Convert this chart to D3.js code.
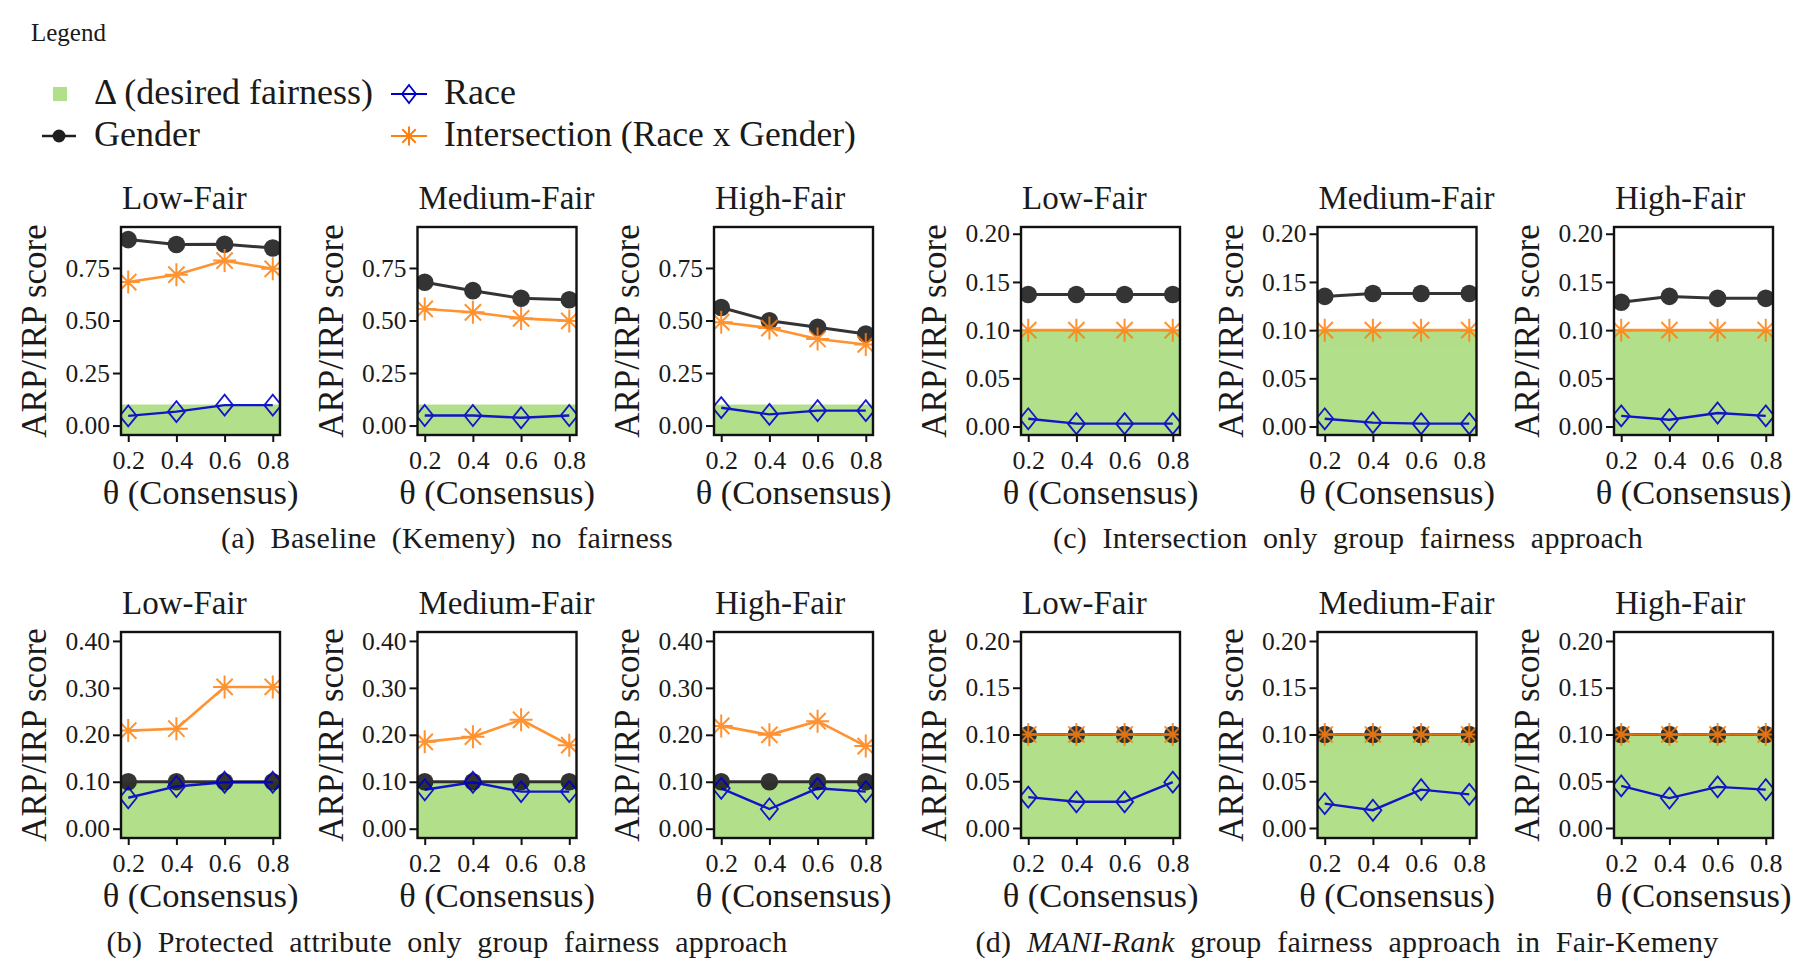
<!DOCTYPE html>
<html>
<head>
<meta charset="utf-8">
<script src="https://cdn.jsdelivr.net/npm/d3@7"></script>
<style>
  html, body { margin: 0; padding: 0; background: #fff; }
  svg text { font-family: "Liberation Serif", "Times New Roman", serif; fill: #1a1a1a; }
</style>
</head>
<body>
<svg id="chart" width="1794" height="963"></svg>
<script>
// theta values on the x axis
var thetas = [0.2, 0.4, 0.6, 0.8];
var fairLevels = ['Low-Fair', 'Medium-Fair', 'High-Fair'];
var delta = 0.1;

// (a) baseline kemeny, one row per fair level
var baseGender = [[0.885, 0.862, 0.863, 0.845], [0.682, 0.642, 0.606, 0.599], [0.562, 0.499, 0.468, 0.436]];
var baseRace = [[0.046, 0.066, 0.097, 0.097], [0.048, 0.048, 0.037, 0.048], [0.085, 0.053, 0.071, 0.071]];
var baseInter = [[0.683, 0.718, 0.785, 0.746], [0.555, 0.539, 0.510, 0.498], [0.492, 0.464, 0.412, 0.386]];

// (b) protected attribute only
var protGender = [[0.1, 0.1, 0.1, 0.1], [0.1, 0.1, 0.1, 0.1], [0.1, 0.1, 0.1, 0.1]];
var protRace = [[0.066, 0.090, 0.099, 0.099], [0.083, 0.099, 0.079, 0.079], [0.086, 0.042, 0.086, 0.079]];
var protInter = [[0.209, 0.213, 0.302, 0.302], [0.185, 0.196, 0.232, 0.178], [0.219, 0.200, 0.229, 0.176]];

// (c) intersection only
var intGender = [[0.137, 0.137, 0.137, 0.137], [0.135, 0.138, 0.138, 0.138], [0.129, 0.135, 0.133, 0.133]];
var intRace = [[0.008, 0.003, 0.003, 0.003], [0.008, 0.004, 0.003, 0.003], [0.011, 0.007, 0.014, 0.011]];
var intInter = [[0.1, 0.1, 0.1, 0.1], [0.1, 0.1, 0.1, 0.1], [0.1, 0.1, 0.1, 0.1]];

// (d) MANI-Rank
var maniGender = [[0.1, 0.1, 0.1, 0.1], [0.1, 0.1, 0.1, 0.1], [0.1, 0.1, 0.1, 0.1]];
var maniRace = [[0.033, 0.028, 0.028, 0.049], [0.026, 0.019, 0.041, 0.036], [0.045, 0.032, 0.044, 0.041]];
var maniInter = [[0.1, 0.1, 0.1, 0.1], [0.1, 0.1, 0.1, 0.1], [0.1, 0.1, 0.1, 0.1]];

var ticksA = [0, 0.25, 0.5, 0.75];
var ticksB = [0, 0.1, 0.2, 0.3, 0.4];
var ticksCD = [0, 0.05, 0.1, 0.15, 0.2];

var captionA = '(a) Baseline (Kemeny) no fairness';
var captionB = '(b) Protected attribute only group fairness approach';
var captionC = '(c) Intersection only group fairness approach';

var colors = { green: '#b2df8a', gender: '#1f1f1f', race: '#0000cc', inter: '#ff7f0e' };

var svg = d3.select('#chart');
var W = 159, step = 296.5;

var groups = [
  { left: 121, top: 227, h: 208, domain: [-0.045, 0.945], ticks: ticksA, g: baseGender, r: baseRace, i: baseInter },
  { left: 1021, top: 227, h: 208, domain: [-0.0088, 0.207], ticks: ticksCD, g: intGender, r: intRace, i: intInter },
  { left: 121, top: 632, h: 206, domain: [-0.0198, 0.419], ticks: ticksB, g: protGender, r: protRace, i: protInter },
  { left: 1021, top: 632, h: 206, domain: [-0.0107, 0.2096], ticks: ticksCD, g: maniGender, r: maniRace, i: maniInter }
];

function asterisk(r) {
  var d = r * 0.707;
  return 'M0,' + (-r) + 'L0,' + r + 'M' + (-r) + ',0L' + r + ',0M' + (-d) + ',' + (-d) + 'L' + d + ',' + d + 'M' + (-d) + ',' + d + 'L' + d + ',' + (-d);
}
function diamond(w, h) {
  return 'M0,' + (-h) + 'L' + w + ',0L0,' + h + 'L' + (-w) + ',0Z';
}

var clipId = 0;

function drawPanel(gx, gy, H, cfg, k) {
  var x = d3.scaleLinear().domain([0.17, 0.83]).range([0, W]),
      y = d3.scaleLinear().domain(cfg.domain).range([H, 0]),
      g = svg.append('g').attr('transform', 'translate(' + gx + ',' + gy + ')'),
      id = 'clip' + (clipId++);

  g.append('clipPath').attr('id', id).append('rect').attr('width', W).attr('height', H);
  var plot = g.append('g').attr('clip-path', 'url(#' + id + ')');

  plot.append('rect').attr('x', 0).attr('width', W)
    .attr('y', y(delta)).attr('height', H - y(delta)).attr('fill', colors.green);

  var line = d3.line().x(function (d, j) { return x(thetas[j]); }).y(function (d) { return y(d); });

  // gender
  var gg = plot.append('g').attr('opacity', 0.9);
  gg.append('path').attr('d', line(cfg.g[k])).attr('fill', 'none').attr('stroke', colors.gender).attr('stroke-width', 3);
  gg.selectAll('circle').data(cfg.g[k]).enter().append('circle')
    .attr('cx', function (d, j) { return x(thetas[j]); }).attr('cy', function (d) { return y(d); })
    .attr('r', 8.8).attr('fill', colors.gender);

  // race
  var rg = plot.append('g').attr('opacity', 0.9);
  rg.append('path').attr('d', line(cfg.r[k])).attr('fill', 'none').attr('stroke', colors.race).attr('stroke-width', 2.4);
  rg.selectAll('path.m').data(cfg.r[k]).enter().append('path').attr('class', 'm')
    .attr('transform', function (d, j) { return 'translate(' + x(thetas[j]) + ',' + y(d) + ')'; })
    .attr('d', diamond(8.5, 10.5)).attr('fill', 'none').attr('stroke', colors.race).attr('stroke-width', 1.8);

  // intersection
  var ig = plot.append('g').attr('opacity', 0.85);
  ig.append('path').attr('d', line(cfg.i[k])).attr('fill', 'none').attr('stroke', colors.inter).attr('stroke-width', 2.6);
  ig.selectAll('path.m').data(cfg.i[k]).enter().append('path').attr('class', 'm')
    .attr('transform', function (d, j) { return 'translate(' + x(thetas[j]) + ',' + y(d) + ')'; })
    .attr('d', asterisk(11.5)).attr('fill', 'none').attr('stroke', colors.inter).attr('stroke-width', 2);

  g.append('rect').attr('width', W).attr('height', H).attr('fill', 'none')
    .attr('stroke', '#111').attr('stroke-width', 2.4);

  var ya = g.append('g').call(d3.axisLeft(y).tickValues(cfg.ticks).tickFormat(d3.format('.2f')).tickSize(8).tickPadding(3));
  var xa = g.append('g').attr('transform', 'translate(0,' + H + ')')
    .call(d3.axisBottom(x).tickValues(thetas).tickFormat(d3.format('.1f')).tickSize(7).tickPadding(9));
  [ya, xa].forEach(function (a) {
    a.select('.domain').remove();
    a.selectAll('line').attr('stroke', '#111').attr('stroke-width', 2);
    a.selectAll('text').attr('font-family', null).style('fill', '#1a1a1a');
  });
  ya.selectAll('text').attr('font-size', 25.5);
  xa.selectAll('text').attr('font-size', 26);

  g.append('text').attr('x', 1).attr('y', -18).attr('font-size', 33).text(fairLevels[k]);
  g.append('text').attr('transform', 'translate(-87,' + (H / 2) + ') rotate(-90)')
    .attr('text-anchor', 'middle').attr('dy', '0.35em').attr('font-size', 35).text('ARP/IRP score');
  g.append('text').attr('x', W / 2).attr('y', H + 69).attr('text-anchor', 'middle').attr('font-size', 34.5).text('θ (Consensus)');
}

groups.forEach(function (cfg) {
  for (var k = 0; k < 3; k++) {
    drawPanel(cfg.left + k * step, cfg.top, cfg.h, cfg, k);
  }
});

// captions, stretched like justified LaTeX text
function caption(sel, cx, width) {
  sel.attr('x', cx).attr('text-anchor', 'middle').attr('font-size', 30);
  var txt = sel.text(),
      natural = sel.node().getComputedTextLength(),
      spaces = (txt.match(/ /g) || []).length,
      extra = width - natural;
  if (extra > 0) {
    sel.attr('letter-spacing', extra * 0.25 / txt.length);
    sel.attr('word-spacing', extra * 0.75 / spaces);
  }
}
caption(svg.append('text').attr('y', 548).text(captionA), 447, 452);
caption(svg.append('text').attr('y', 548).text(captionC), 1348, 590);
caption(svg.append('text').attr('y', 952).text(captionB), 447, 681);
var capD = svg.append('text').attr('y', 952);
capD.append('tspan').text('(d) ');
capD.append('tspan').attr('font-style', 'italic').text('MANI-Rank');
capD.append('tspan').text(' group fairness approach in Fair-Kemeny');
caption(capD, 1347, 743);

// legend
var lg = svg.append('g');
lg.append('text').attr('x', 31).attr('y', 41).attr('font-size', 25).text('Legend');
lg.append('rect').attr('x', 53).attr('y', 87).attr('width', 14).attr('height', 14).attr('fill', colors.green);
lg.append('text').attr('x', 94).attr('y', 104).attr('font-size', 36).text('Δ (desired fairness)');
lg.append('line').attr('x1', 42).attr('x2', 76).attr('y1', 136).attr('y2', 136).attr('stroke', colors.gender).attr('stroke-width', 2.4);
lg.append('circle').attr('cx', 59).attr('cy', 136).attr('r', 6.5).attr('fill', colors.gender);
lg.append('text').attr('x', 94).attr('y', 146).attr('font-size', 36).text('Gender');
lg.append('line').attr('x1', 391).attr('x2', 427).attr('y1', 94).attr('y2', 94).attr('stroke', colors.race).attr('stroke-width', 2.2);
lg.append('path').attr('transform', 'translate(409,94)').attr('d', diamond(7, 9)).attr('fill', 'none').attr('stroke', colors.race).attr('stroke-width', 1.8);
lg.append('text').attr('x', 444).attr('y', 104).attr('font-size', 36).text('Race');
lg.append('line').attr('x1', 391).attr('x2', 427).attr('y1', 136).attr('y2', 136).attr('stroke', colors.inter).attr('stroke-width', 2.2);
lg.append('path').attr('transform', 'translate(409,136)').attr('d', asterisk(9.5)).attr('fill', 'none').attr('stroke', colors.inter).attr('stroke-width', 2);
lg.append('text').attr('x', 444).attr('y', 146).attr('font-size', 35.6).text('Intersection (Race x Gender)');
</script>
</body>
</html>
